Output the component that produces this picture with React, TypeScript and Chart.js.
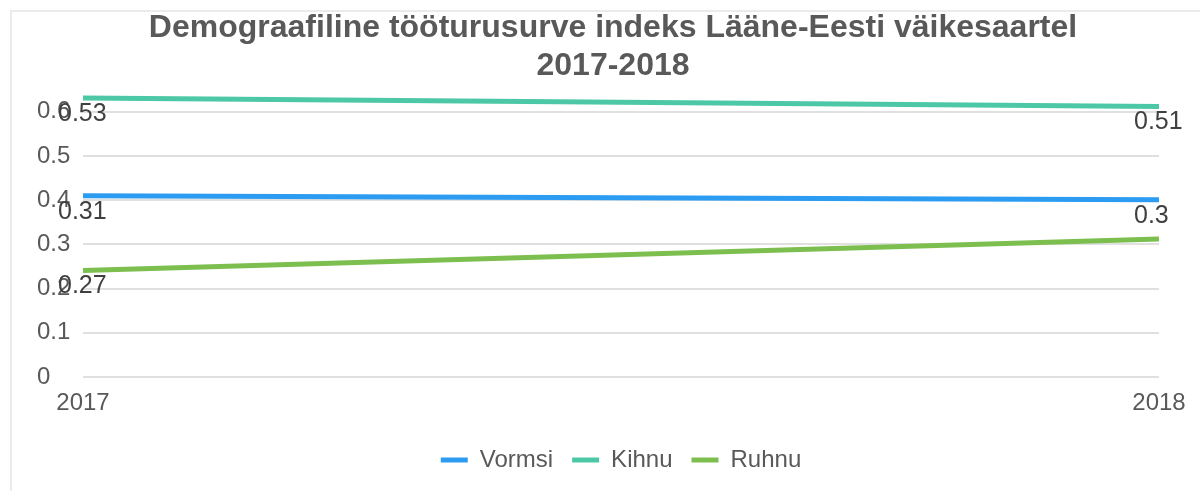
import React, { useEffect, useRef } from 'react';
import { Chart, registerables } from 'chart.js';

Chart.register(...registerables);

const FONT = "'Liberation Sans', Arial, sans-serif";

const titleLines = ['Demograafiline tööturusurve indeks Lääne-Eesti väikesaartel', '2017-2018'];
const years = ['2017', '2018'];
const seriesNames = ['Vormsi', 'Kihnu', 'Ruhnu'];
const vormsiValues = [0.410, 0.401];
const kihnuValues = [0.631, 0.612];
const ruhnuValues = [0.241, 0.312];
const vormsiLabels = ['0.31', '0.3'];
const kihnuLabels = ['0.53', '0.51'];
const ruhnuLabels = ['0.27', ''];
const seriesColors = ['#2b9cf2', '#4cc8a6', '#7cbf4f'];
const yMin = 0;
const yMax = 0.6;
const yStep = 0.1;

const dataLabelPlugin = {
  id: 'pointTextLabels',
  afterDatasetsDraw(chart: any) {
    const ctx = chart.ctx;
    ctx.save();
    ctx.font = `25px ${FONT}`;
    ctx.fillStyle = '#404040';
    ctx.textAlign = 'left';
    ctx.textBaseline = 'middle';
    chart.data.datasets.forEach((ds: any, di: number) => {
      const meta = chart.getDatasetMeta(di);
      const texts: string[] = ds.valueLabels || [];
      meta.data.forEach((pt: any, i: number) => {
        const t = texts[i];
        if (!t) return;
        ctx.fillText(t, pt.x - 25, pt.y + 16);
      });
    });
    ctx.restore();
  },
};

export default function App() {
  const canvasRef = useRef<HTMLCanvasElement | null>(null);

  useEffect(() => {
    if (!canvasRef.current) return;
    Chart.defaults.font.family = FONT;
    const valueSets = [vormsiValues, kihnuValues, ruhnuValues];
    const labelSets = [vormsiLabels, kihnuLabels, ruhnuLabels];
    const chart = new Chart(canvasRef.current, {
      type: 'line',
      data: {
        labels: years,
        datasets: seriesNames.map((name, i) => ({
          label: name,
          data: valueSets[i],
          valueLabels: labelSets[i],
          borderColor: seriesColors[i],
          backgroundColor: seriesColors[i],
          borderWidth: 5,
          pointRadius: 0,
          pointHoverRadius: 0,
          tension: 0,
          clip: false,
          yAxisID: 'y',
        })) as any,
      },
      options: {
        responsive: false,
        animation: false,
        events: [],
        layout: { padding: { left: 37, right: 11, top: 0, bottom: 9 } },
        plugins: {
          title: {
            display: true,
            text: titleLines,
            color: '#595959',
            font: { size: 32, weight: 'bold', family: FONT, lineHeight: 1.2 },
            padding: { top: 9, bottom: 26 },
          },
          legend: {
            display: true,
            position: 'bottom',
            fullSize: false,
            labels: {
              color: '#595959',
              font: { size: 24, family: FONT },
              usePointStyle: true,
              pointStyle: 'line',
              pointStyleWidth: 27,
              padding: 19,
            },
          },
          tooltip: { enabled: false },
        },
        scales: {
          x: {
            type: 'category',
            offset: false,
            grid: { display: false, drawTicks: false },
            border: { display: false },
            ticks: { color: '#595959', font: { size: 24, family: FONT }, padding: 12, maxRotation: 0, autoSkip: false },
            afterFit: (s: any) => { s.height = 52; },
          },
          y: {
            type: 'linear',
            position: 'left',
            min: yMin,
            max: yMax,
            grid: { color: '#e0e0e0', lineWidth: 2, drawTicks: false },
            border: { display: false },
            ticks: {
              stepSize: yStep,
              color: '#595959',
              font: { size: 24, family: FONT },
              crossAlign: 'far',
              padding: 0,
              callback: (v: any) => String(Math.round(Number(v) * 10) / 10),
            },
            afterFit: (s: any) => { s.width = 46; },
          },
          yRight: {
            type: 'linear',
            position: 'right',
            display: true,
            grid: { display: false, drawTicks: false },
            border: { display: false },
            ticks: { display: false },
            afterFit: (s: any) => { s.width = 30; },
          },
        },
      } as any,
      plugins: [dataLabelPlugin],
    });
    return () => chart.destroy();
  }, []);

  return (
    <div style={{ position: 'absolute', left: 0, top: 0, width: 1200, height: 491, background: '#ffffff', overflow: 'hidden' }}>
      <div
        style={{
          position: 'absolute', left: 10, top: 10, right: 0, bottom: 0,
          borderLeft: '2px solid #ebebeb', borderTop: '2px solid #ebebeb',
        }}
      />
      <canvas
        ref={canvasRef}
        width={1200}
        height={491}
        style={{ position: 'absolute', left: 0, top: 0, width: 1200, height: 491 }}
      />
    </div>
  );
}
